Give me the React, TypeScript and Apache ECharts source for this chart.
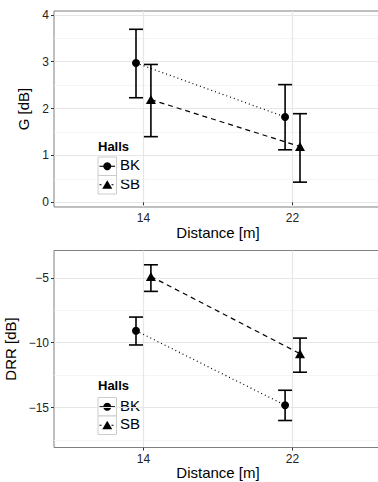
import React, { useEffect, useRef } from 'react';
import * as echarts from 'echarts';

const distances = [14, 22];
const halls = ['BK', 'SB'];
const dodge = [-0.4, 0.4];

const gBK = [2.97, 1.82];
const gBKLow = [2.23, 1.12];
const gBKHigh = [3.69, 2.51];
const gSB = [2.19, 1.19];
const gSBLow = [1.4, 0.43];
const gSBHigh = [2.94, 1.89];

const drrBK = [-9.08, -14.82];
const drrBKLow = [-10.18, -16.0];
const drrBKHigh = [-8.03, -13.67];
const drrSB = [-4.9, -10.85];
const drrSBLow = [-6.05, -12.28];
const drrSBHigh = [-4.0, -9.65];

const xTicks = [14, 22];
const gTicks = [0, 1, 2, 3, 4];
const gMinor = [0.5, 1.5, 2.5, 3.5];
const drrTicks = [-15, -10, -5];
const drrMinor = [-17.5, -12.5, -7.5];

const FONT = '"Liberation Sans", Arial, Helvetica, sans-serif';

export default function App() {
  const ref = useRef<HTMLDivElement>(null);
  useEffect(() => {
    document.body.style.margin = '0';
    const chart = echarts.init(ref.current!, null, { renderer: 'svg' });

    const symbols = ['circle', 'triangle'];
    const symbolSizes: any[] = [8, [10, 9]];
    const dashes: any[] = [[1, 3], [5, 4]];

    const panels = [
      { means: [gBK, gSB], lows: [gBKLow, gSBLow], highs: [gBKHigh, gSBHigh] },
      { means: [drrBK, drrSB], lows: [drrBKLow, drrSBLow], highs: [drrBKHigh, drrSBHigh] },
    ];

    const series: any[] = [];
    panels.forEach((p, pi) => {
      halls.forEach((h, hi) => {
        series.push({
          type: 'custom',
          xAxisIndex: pi,
          yAxisIndex: pi * 2,
          z: 2,
          encode: { x: 0, y: [1, 2] },
          data: distances.map((d, k) => [d + dodge[hi], p.lows[hi][k], p.highs[hi][k]]),
          renderItem: (params: any, api: any) => {
            const x = api.value(0);
            const top = api.coord([x, api.value(2)]);
            const bot = api.coord([x, api.value(1)]);
            const hw = 7;
            const style = { stroke: '#000', lineWidth: 1.6, fill: null };
            return {
              type: 'group',
              children: [
                { type: 'line', shape: { x1: top[0], y1: top[1], x2: bot[0], y2: bot[1] }, style },
                { type: 'line', shape: { x1: top[0] - hw, y1: top[1], x2: top[0] + hw, y2: top[1] }, style },
                { type: 'line', shape: { x1: bot[0] - hw, y1: bot[1], x2: bot[0] + hw, y2: bot[1] }, style },
              ],
            };
          },
        });
        series.push({
          type: 'line',
          name: h,
          xAxisIndex: pi,
          yAxisIndex: pi * 2,
          z: 3,
          data: distances.map((d, k) => [d + dodge[hi], p.means[hi][k]]),
          symbol: symbols[hi],
          symbolSize: symbolSizes[hi],
          showSymbol: true,
          itemStyle: { color: '#000' },
          lineStyle: { color: '#000', width: 1.2, type: dashes[hi] },
        });
      });
    });

    const xAxis = (gi: number) => ({
      type: 'value',
      gridIndex: gi,
      min: 9.2,
      max: 26.8,
      name: 'Distance [m]',
      nameLocation: 'middle',
      nameGap: 17,
      nameTextStyle: { fontFamily: FONT, fontSize: 15, color: '#000' },
      axisLine: { show: false },
      axisTick: { show: true, length: 3, customValues: xTicks, lineStyle: { color: '#333' } },
      axisLabel: { customValues: xTicks, margin: 5, fontFamily: FONT, fontSize: 12, color: '#222' },
      splitLine: { show: true, lineStyle: { color: '#e6e6e6', width: 1.2 } },
    });

    const yMain = (gi: number, min: number, max: number, ticks: number[], name: string, gap: number) => ({
      type: 'value',
      gridIndex: gi,
      min,
      max,
      position: 'left',
      name,
      nameLocation: 'middle',
      nameGap: gap,
      nameRotate: 90,
      nameTextStyle: { fontFamily: FONT, fontSize: 15, color: '#000' },
      axisLine: { show: false },
      axisTick: { show: true, length: 3, customValues: ticks, lineStyle: { color: '#333' } },
      axisLabel: {
        customValues: ticks,
        margin: 5,
        fontFamily: FONT,
        fontSize: 12,
        color: '#222',
        formatter: (v: number) => String(v).replace('-', '\u2212'),
      },
      splitLine: { show: true, lineStyle: { color: '#e6e6e6', width: 1.2 } },
    });

    const yMinor = (gi: number, min: number, max: number, ticks: number[]) => ({
      type: 'value',
      gridIndex: gi,
      min,
      max,
      position: 'right',
      axisLine: { show: false },
      axisTick: { show: false, customValues: ticks },
      axisLabel: { show: false, customValues: ticks },
      splitLine: { show: true, lineStyle: { color: '#f3f3f3', width: 0.8 } },
    });

    const legend = (titleY: number, cellTop: number) => {
      const cellH = 18.5;
      const items: any[] = [
        {
          type: 'text',
          left: 98,
          top: titleY - 7.5,
          style: { text: 'Halls', font: `bold 13px ${FONT}`, fill: '#000' },
        },
      ];
      halls.forEach((h, i) => {
        const y0 = cellTop + i * cellH;
        const cy = y0 + cellH / 2;
        items.push({
          type: 'rect',
          shape: { x: 98, y: y0, width: 18.5, height: cellH },
          style: { fill: '#fff', stroke: '#cccccc', lineWidth: 1 },
        });
        items.push({
          type: 'line',
          shape: { x1: 99.5, y1: cy, x2: 115, y2: cy },
          style: { stroke: '#000', lineWidth: 1.1, lineDash: i === 0 ? null : [2, 4] },
        });
        if (i === 0) {
          items.push({ type: 'circle', shape: { cx: 107.25, cy, r: 4 }, style: { fill: '#000' } });
        } else {
          items.push({
            type: 'polygon',
            shape: { points: [[107.25, cy - 4.5], [112.25, cy + 4], [102.25, cy + 4]] },
            style: { fill: '#000' },
          });
        }
        items.push({
          type: 'text',
          left: 120,
          top: cy - 9,
          style: { text: h, font: `15px ${FONT}`, fill: '#000' },
        });
      });
      return items;
    };

    const gridBase = {
      left: 54,
      width: 328,
      show: true,
      borderColor: '#7f7f7f',
      borderWidth: 1,
      backgroundColor: 'transparent',
      containLabel: false,
      outerBoundsMode: 'none',
    };

    chart.setOption({
      animation: false,
      backgroundColor: '#fff',
      grid: [
        { ...gridBase, top: 11, height: 196 },
        { ...gridBase, top: 250.5, height: 197 },
      ],
      xAxis: [xAxis(0), xAxis(1)],
      yAxis: [
        yMain(0, -0.1, 4.08, gTicks, 'G [dB]', 9),
        yMinor(0, -0.1, 4.08, gMinor),
        yMain(1, -18.08, -2.9, drrTicks, 'DRR [dB]', 21),
        yMinor(1, -18.08, -2.9, drrMinor),
      ],
      series,
      graphic: [...legend(147, 157), ...legend(386.7, 397.5)],
    });

    return () => chart.dispose();
  }, []);

  return <div ref={ref} style={{ position: 'fixed', left: 0, top: 0, width: 378, height: 482 }} />;
}
